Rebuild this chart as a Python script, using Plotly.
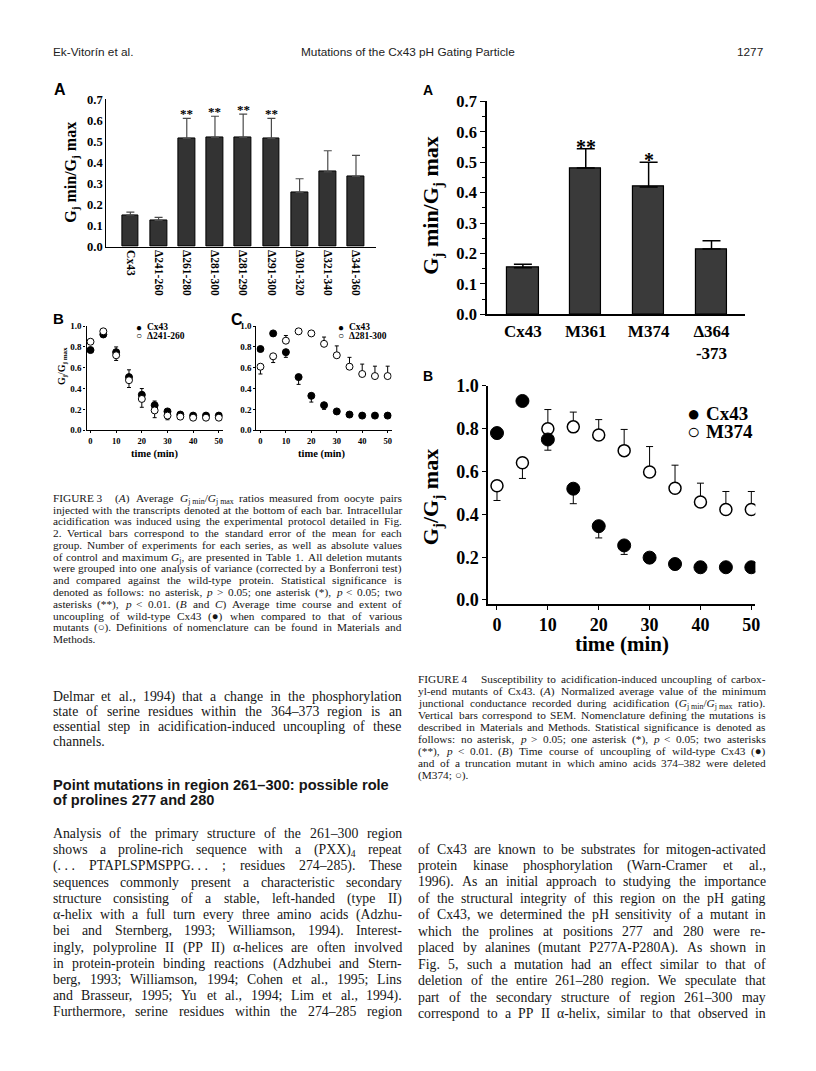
import re
import plotly.graph_objects as go

W, H = 816, 1071
SERIF = "Liberation Serif, Times New Roman, serif"
SANS = "Liberation Sans, Arial, sans-serif"
INK = "#161616"

# ---------------- Figure 3A: Gj min / Gj max per deletion mutant ----------------
f3a_labels = ["Cx43", "Δ241-260", "Δ261-280", "Δ281-300", "Δ281-290",
              "Δ291-300", "Δ301-320", "Δ321-340", "Δ341-360"]
f3a_ratio = [0.150, 0.125, 0.515, 0.520, 0.520, 0.515, 0.258, 0.356, 0.334]
f3a_sem = [0.014, 0.014, 0.095, 0.100, 0.110, 0.095, 0.065, 0.100, 0.100]
f3a_stars = ["", "", "**", "**", "**", "**", "", "", ""]

# ---------------- time courses (min) ----------------
time_min = [0, 5, 10, 15, 20, 25, 30, 35, 40, 45, 50]

# Figure 3B
f3b_cx43 = [0.77, 0.92, 0.75, 0.51, 0.34, 0.24, 0.18, 0.15, 0.14, 0.14, 0.14]
f3b_cx43_up = [0, 0, 0.05, 0.07, 0.06, 0.04, 0, 0, 0, 0, 0]
f3b_d241 = [0.85, 0.95, 0.72, 0.48, 0.30, 0.19, 0.14, 0.13, 0.12, 0.12, 0.12]
f3b_d241_down = [0, 0, 0.05, 0.07, 0.08, 0.07, 0.04, 0.02, 0.01, 0.01, 0.01]

# Figure 3C
f3c_cx43 = [0.78, 0.93, 0.75, 0.51, 0.33, 0.24, 0.18, 0.15, 0.14, 0.14, 0.14]
f3c_cx43_down = [0, 0, 0.05, 0.07, 0.06, 0.04, 0, 0, 0, 0, 0]
f3c_d281 = [0.61, 0.71, 0.86, 0.95, 0.93, 0.83, 0.72, 0.61, 0.54, 0.52, 0.52]
f3c_d281_up = [0, 0, 0.05, 0, 0, 0.065, 0.09, 0.09, 0.095, 0.095, 0.095]
f3c_d281_down = [0.07, 0.06, 0, 0, 0, 0, 0, 0, 0, 0, 0]

# ---------------- Figure 4A ----------------
f4a_labels = ["Cx43", "M361", "M374", "Δ364<br>-373"]
f4a_ratio = [0.153, 0.481, 0.419, 0.215]
f4a_sem = [0.012, 0.063, 0.081, 0.027]
f4a_stars = ["", "**", "*", ""]

# ---------------- Figure 4B ----------------
f4b_cx43 = [0.78, 0.93, 0.75, 0.52, 0.345, 0.255, 0.198, 0.168, 0.153, 0.153, 0.153]
f4b_cx43_down = [0, 0, 0.05, 0.07, 0.055, 0.042, 0, 0, 0, 0, 0]
f4b_m374 = [0.534, 0.641, 0.80, 0.809, 0.771, 0.698, 0.598, 0.522, 0.458, 0.423, 0.423]
f4b_m374_up = [0, 0, 0.09, 0.069, 0.072, 0.099, 0.119, 0.108, 0.088, 0.084, 0.084]
f4b_m374_down = [0.069, 0.073, 0, 0, 0, 0, 0, 0, 0, 0, 0]

# ---------------- page text ----------------
header_left = "Ek-Vitorín et al."
header_mid = "Mutations of the Cx43 pH Gating Particle"
header_page = "1277"

GJMIN = "<i>G</i><sub>j\u00a0min</sub>/<i>G</i><sub>j\u00a0max</sub>"

cap3_lines = [
    "FIGURE\u00a03\u00a0\u00a0\u00a0 (<i>A</i>) Average " + GJMIN + " ratios measured from oocyte pairs",
    "injected with the transcripts denoted at the bottom of each bar. Intracellular",
    "acidification was induced using the experimental protocol detailed in Fig.",
    "2. Vertical bars correspond to the standard error of the mean for each",
    "group. Number of experiments for each series, as well as absolute values",
    "of control and maximum <i>G</i><sub>j</sub>, are presented in Table 1. All deletion mutants",
    "were grouped into one analysis of variance (corrected by a Bonferroni test)",
    "and compared against the wild-type protein. Statistical significance is",
    "denoted as follows: no asterisk, <i>p</i> &gt; 0.05; one asterisk (*), <i>p</i> &lt; 0.05; two",
    "asterisks (**), <i>p</i> &lt; 0.01. (<i>B</i> and <i>C</i>) Average time course and extent of",
    "uncoupling of wild-type Cx43 (●) when compared to that of various",
    "mutants (○). Definitions of nomenclature can be found in Materials and",
    "Methods.",
]

cap4_lines = [
    "FIGURE\u00a04\u00a0\u00a0\u00a0 Susceptibility to acidification-induced uncoupling of carbox-",
    "yl-end mutants of Cx43. (<i>A</i>) Normalized average value of the minimum",
    "junctional conductance recorded during acidification (" + GJMIN + " ratio).",
    "Vertical bars correspond to SEM. Nomenclature defining the mutations is",
    "described in Materials and Methods. Statistical significance is denoted as",
    "follows: no asterisk, <i>p</i> &gt; 0.05; one asterisk (*), <i>p</i> &lt; 0.05; two asterisks",
    "(**), <i>p</i> &lt; 0.01. (<i>B</i>) Time course of uncoupling of wild-type Cx43 (●)",
    "and of a truncation mutant in which amino acids 374–382 were deleted",
    "(M374; ○).",
]

body_left_a = [
    "Delmar et al., 1994) that a change in the phosphorylation",
    "state of serine residues within the 364–373 region is an",
    "essential step in acidification-induced uncoupling of these",
    "channels.",
]

heading_lines = [
    "Point mutations in region 261–300: possible role",
    "of prolines 277 and 280",
]

body_left_b = [
    "Analysis of the primary structure of the 261–300 region",
    "shows a proline-rich sequence with a (PXX)<sub>4</sub> repeat",
    "(.\u00a0.\u00a0. PTAPLSPMSPPG.\u00a0.\u00a0. ; residues 274–285). These",
    "sequences commonly present a characteristic secondary",
    "structure consisting of a stable, left-handed (type II)",
    "α-helix with a full turn every three amino acids (Adzhu-",
    "bei and Sternberg, 1993; Williamson, 1994). Interest-",
    "ingly, polyproline II (PP II) α-helices are often involved",
    "in protein-protein binding reactions (Adzhubei and Stern-",
    "berg, 1993; Williamson, 1994; Cohen et al., 1995; Lins",
    "and Brasseur, 1995; Yu et al., 1994; Lim et al., 1994).",
    "Furthermore, serine residues within the 274–285 region",
]

body_right = [
    "of Cx43 are known to be substrates for mitogen-activated",
    "protein kinase phosphorylation (Warn-Cramer et al.,",
    "1996). As an initial approach to studying the importance",
    "of the structural integrity of this region on the pH gating",
    "of Cx43, we determined the pH sensitivity of a mutant in",
    "which the prolines at positions 277 and 280 were re-",
    "placed by alanines (mutant P277A-P280A). As shown in",
    "Fig. 5, such a mutation had an effect similar to that of",
    "deletion of the entire 261–280 region. We speculate that",
    "part of the secondary structure of region 261–300 may",
    "correspond to a PP II α-helix, similar to that observed in",
]

# Times advance widths (per 1000 em), used to justify the text columns
TIMES = {}
for ch, w in zip("abcdefghijklmnopqrstuvwxyz",
                 [444, 500, 444, 500, 444, 333, 500, 500, 278, 278, 500, 278, 778,
                  500, 500, 500, 500, 333, 389, 278, 500, 500, 722, 500, 500, 444]):
    TIMES[ch] = w
for ch, w in zip("ABCDEFGHIJKLMNOPQRSTUVWXYZ",
                 [722, 667, 667, 722, 611, 556, 722, 722, 333, 389, 722, 611, 889,
                  722, 722, 556, 722, 667, 556, 611, 722, 722, 944, 722, 722, 611]):
    TIMES[ch] = w
for ch in "0123456789":
    TIMES[ch] = 500
TIMES.update({" ": 250, "\u00a0": 250, "(": 333, ")": 333, ",": 250, ".": 250,
              ";": 278, ":": 278, "-": 333, "–": 500, "/": 278, "*": 500,
              "<": 564, ">": 564, "●": 604, "○": 604, "Δ": 612, "α": 500})


def word_width(word, size):
    total, scale = 0.0, 1.0
    for tok in re.split(r"(<[^>]+>)", word):
        if tok.startswith("<"):
            if tok in ("<sub>", "<sup>"):
                scale = 0.7
            elif tok in ("</sub>", "</sup>"):
                scale = 1.0
            continue
        tok = tok.replace("&lt;", "<").replace("&gt;", ">")
        for ch in tok:
            total += TIMES.get(ch, 500) * scale
    return total * size / 1000.0


def text_block(lines, x0, x1, y0, step, size, justify_last=False):
    anns = []
    for i, line in enumerate(lines):
        yc = y0 + i * step
        words = line.split(" ")
        widths = [word_width(w, size) for w in words]
        last = i == len(lines) - 1 and not justify_last
        if len(words) > 1 and not last:
            gap = (x1 - x0 - sum(widths)) / (len(words) - 1)
        else:
            gap = 0.25 * size
        x = x0
        for w, wd in zip(words, widths):
            anns.append(dict(text=w, x=x / W, y=1 - (yc - 0.64 * size) / H,
                             xref="paper", yref="paper", xanchor="left", yanchor="top",
                             showarrow=False, borderpad=0,
                             font=dict(family=SERIF, size=size, color=INK)))
            x += wd + gap
    return anns


def label(text, x, y, size, family=SERIF, bold=True, angle=0, xanchor="center", color="black"):
    return dict(text=text, x=x / W, y=1 - y / H, xref="paper", yref="paper",
                xanchor=xanchor, yanchor="middle", showarrow=False, borderpad=0,
                textangle=angle,
                font=dict(family=family, size=size, color=color,
                          weight="bold" if bold else "normal"))


def dom_x(a, b):
    return [a / W, b / W]


def dom_y(top, bottom):
    return [1 - bottom / H, 1 - top / H]


def tf(size):
    return dict(family=SERIF, size=size, color="black", weight="bold")


def axis(**kw):
    base = dict(showline=True, linecolor="black", linewidth=1.3, showgrid=False,
                zeroline=False, ticks="outside", ticklen=3, tickwidth=1,
                tickcolor="black", fixedrange=True)
    base.update(kw)
    return base


def course(y, up, down, filled, size, lw, xa, ya, cap):
    return go.Scatter(
        x=time_min, y=y, mode="markers", xaxis=xa, yaxis=ya,
        marker=dict(symbol="circle", size=size, color="black" if filled else "white",
                    line=dict(color="black", width=lw)),
        error_y=dict(type="data", symmetric=False, array=up, arrayminus=down,
                     color="black", thickness=1, width=cap))


fig = go.Figure()

# Figure 3A
fig.add_trace(go.Bar(
    x=list(range(len(f3a_labels))), y=f3a_ratio, width=0.6, xaxis="x", yaxis="y",
    marker=dict(color="#333333", line=dict(color="black", width=1)),
    error_y=dict(type="data", symmetric=False, array=f3a_sem,
                 arrayminus=[0] * len(f3a_sem), color="#4a4a4a", thickness=1.2, width=4)))

# Figure 3B (filled under open)
fig.add_trace(course(f3b_cx43, f3b_cx43_up, [0] * 11, True, 7, 1, "x2", "y2", 2))
fig.add_trace(course(f3b_d241, [0] * 11, f3b_d241_down, False, 7, 1, "x2", "y2", 2))

# Figure 3C
fig.add_trace(course(f3c_d281, f3c_d281_up, f3c_d281_down, False, 7, 1, "x3", "y3", 2))
fig.add_trace(course(f3c_cx43, [0] * 11, f3c_cx43_down, True, 7, 1, "x3", "y3", 2))

# Figure 4A
fig.add_trace(go.Bar(
    x=list(range(len(f4a_labels))), y=f4a_ratio, width=0.5, xaxis="x4", yaxis="y4",
    marker=dict(color="#3a3a3a", line=dict(color="black", width=1.2)),
    error_y=dict(type="data", symmetric=False, array=f4a_sem,
                 arrayminus=[0] * len(f4a_sem), color="black", thickness=1.5, width=9)))

# Figure 4B (open under filled)
fig.add_trace(course(f4b_m374, f4b_m374_up, f4b_m374_down, False, 12, 1.5, "x5", "y5", 3.5))
fig.add_trace(course(f4b_cx43, [0] * 11, f4b_cx43_down, True, 13, 1, "x5", "y5", 3.5))

anns = []

# significance stars, placed above the error bars in data coordinates
for i, s in enumerate(f3a_stars):
    if s:
        anns.append(dict(text=s, x=i, y=f3a_ratio[i] + f3a_sem[i], xref="x", yref="y",
                         xanchor="center", yanchor="bottom", yshift=-5, showarrow=False,
                         font=dict(family=SERIF, size=13, color="black", weight="bold")))
for i, s in enumerate(f4a_stars):
    if s:
        anns.append(dict(text=s, x=i, y=f4a_ratio[i] + f4a_sem[i], xref="x4", yref="y4",
                         xanchor="center", yanchor="bottom", yshift=-11, showarrow=False,
                         font=dict(family=SERIF, size=20, color="black", weight="bold")))

# panel letters
anns += [
    label("A", 52, 73, 16, family=SANS),
    label("B", 51, 306, 15, family=SANS),
    label("C", 230, 307, 16, family=SANS),
    label("A", 423, 73, 14, family=SANS),
    label("B", 423, 365, 14, family=SANS),
]

# axis titles
anns += [
    label("G<sub>j</sub> min/G<sub>j</sub> max", 63, 157, 16, angle=-90),
    label("G<sub>j</sub>/G<sub>j max</sub>", 55, 355, 10, angle=-90),
    label("time (min)", 147, 444, 10.5),
    label("time (min)", 315, 444, 10.5),
    label("G<sub>j</sub> min/G<sub>j</sub> max", 427, 191, 22, angle=-90),
    label("G<sub>j</sub>/G<sub>j</sub> max", 427, 488, 22, angle=-90),
    label("time (min)", 618, 638, 21),
]

# legends
anns += [
    label("●", 132, 315, 10), label("Cx43", 139, 315, 9.5, xanchor="left"),
    label("○", 132, 324, 10), label("Δ241-260", 139, 324, 9.5, xanchor="left"),
    label("●", 335, 315, 10), label("Cx43", 342, 315, 9.5, xanchor="left"),
    label("○", 335, 324, 10), label("Δ281-300", 342, 324, 9.5, xanchor="left"),
    label("●", 690, 403, 22), label("Cx43", 701, 403, 19, xanchor="left"),
    label("○", 690, 421, 22), label("M374", 701, 421, 19, xanchor="left"),
]

# running header
anns += [
    label(header_left, 44, 35, 11.8, family=SANS, bold=False, xanchor="left", color="#222"),
    label(header_mid, 294, 35, 11.8, family=SANS, bold=False, xanchor="left", color="#222"),
    label(header_page, 761, 35, 11.8, family=SANS, bold=False, xanchor="right", color="#222"),
]

# captions and body text
anns += text_block(cap3_lines, 44, 395, 489, 12.0, 11.3)
anns += text_block(cap4_lines, 412, 761, 674, 12.25, 11.3)
anns += text_block(body_left_a, 44, 395, 692, 15.3, 13.8)
anns += [label(t, 44, 782 + 14.5 * i, 14.6, family=SANS, xanchor="left", color=INK)
         for i, t in enumerate(heading_lines)]
anns += text_block(body_left_b, 44, 395, 831, 16.55, 13.8, justify_last=True)
anns += text_block(body_right, 412, 761, 847, 16.8, 13.8, justify_last=True)

fig.update_layout(
    width=W, height=H, margin=dict(l=0, r=0, t=0, b=0),
    paper_bgcolor="white", plot_bgcolor="rgba(0,0,0,0)", showlegend=False,
    bargap=0,
    xaxis=axis(domain=dom_x(99, 370), range=[-0.85, 8.7], anchor="y",
               tickmode="array", tickvals=list(range(len(f3a_labels))),
               ticktext=f3a_labels, tickangle=90, ticks="", tickfont=tf(11.5)),
    yaxis=axis(domain=dom_y(83, 233), range=[0, 0.7], anchor="x", dtick=0.1,
               tickformat=".1f", ticks="", tickfont=tf(12.5)),
    xaxis2=axis(domain=dom_x(79, 216), range=[-1.55, 51.5], anchor="y2", dtick=10,
                tickfont=tf(8.5), ticklen=2),
    yaxis2=axis(domain=dom_y(314, 420), range=[0, 1.0], anchor="x2", dtick=0.2,
                tickformat=".1f", tickfont=tf(9), ticklen=2),
    xaxis3=axis(domain=dom_x(250, 386), range=[-1.56, 51.56], anchor="y3", dtick=10,
                tickfont=tf(8.5), ticklen=2),
    yaxis3=axis(domain=dom_y(314, 420), range=[0, 1.0], anchor="x3", dtick=0.2,
                tickformat=".1f", tickfont=tf(9), ticklen=2),
    xaxis4=axis(domain=dom_x(482, 742), range=[-0.57, 3.54], anchor="y4",
                tickmode="array", tickvals=list(range(len(f4a_labels))),
                ticktext=f4a_labels, ticks="", tickfont=tf(17), linewidth=1.5),
    yaxis4=axis(domain=dom_y(85, 302), range=[0, 0.7], anchor="x4", dtick=0.1,
                tickformat=".1f", ticklen=5, tickfont=tf(16.5), linewidth=1.5,
                minor=dict(dtick=0.05, ticks="outside", ticklen=3, tickcolor="black")),
    xaxis5=axis(domain=dom_x(483, 752), range=[-1.76, 50.8], anchor="y5", dtick=10,
                ticklen=4, tickfont=tf(18), linewidth=1.5),
    yaxis5=axis(domain=dom_y(375, 597), range=[-0.018, 1.0], anchor="x5",
                tickmode="array", tickvals=[0, 0.2, 0.4, 0.6, 0.8, 1.0],
                tickformat=".1f", ticklen=4, tickfont=tf(18), linewidth=1.5),
    annotations=anns,
)

fig.write_html("out.html")
